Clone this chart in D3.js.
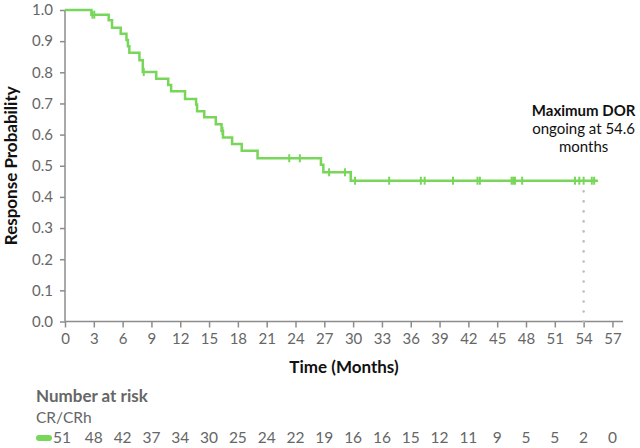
<!DOCTYPE html>
<html>
<head>
<meta charset="utf-8">
<script src="https://cdn.jsdelivr.net/npm/d3@7"></script>
<style>
  html, body { margin: 0; padding: 0; background: #fff; }
  svg { display: block; font-family: Lato, "Noto Sans", sans-serif; }
</style>
</head>
<body>
<svg id="chart" width="640" height="448"></svg>
<script>
// ---- data ----
const eventTimes = [0, 2.75, 4.55, 4.9, 5.8, 6.4, 6.55, 6.7, 7.75, 8.1, 9.5, 10.75, 11.05, 12.5, 13.65, 13.75, 14.5, 15.7, 16.3, 16.45, 17.4, 18.4, 20.05, 26.65, 26.9, 29.75];
const survival   = [1.0, 0.985, 0.967, 0.943, 0.924, 0.904, 0.884, 0.863, 0.839, 0.801, 0.779, 0.759, 0.739, 0.714, 0.697, 0.675, 0.656, 0.633, 0.612, 0.591, 0.570, 0.548, 0.524, 0.503, 0.479, 0.452];
const lastFollowUp = 55.5;
const censorTimes = [2.85, 3.05, 8.2, 16.4, 23.35, 24.45, 27.5, 29.15, 30.2, 33.75, 37.05, 37.45, 40.4, 42.95, 43.2, 46.5, 46.67, 46.85, 47.6, 53.1, 53.55, 54.0, 54.85, 55.1];
const xTicks = d3.range(0, 58, 3);
const yTicks = d3.range(0, 11).map(d => d / 10);
const atRiskTimes = d3.range(0, 58, 3);
const atRisk = [51, 48, 42, 37, 34, 30, 25, 24, 22, 19, 16, 16, 15, 12, 11, 9, 5, 5, 2, 0];
const groupName = "CR/CRh";
const maxDorTime = 54;
const annotationLines = ["Maximum DOR", "ongoing at 54.6", "months"];

// ---- styles ----
const green = "#78d65a";
const axisGray = "#8c8c8c";
const textGray = "#666";

const svg = d3.select("#chart");
const x = d3.scaleLinear().domain([0, 58.1]).range([65, 623]);
const y = d3.scaleLinear().domain([0, 1]).range([321.5, 10]);

function survAt(t) {
  let s = survival[0];
  for (let i = 0; i < eventTimes.length; i++) if (eventTimes[i] <= t) s = survival[i];
  return s;
}

// axes
const xAxis = svg.append("g").attr("transform", `translate(0,${y(0)})`)
  .call(d3.axisBottom(x).tickValues(xTicks).tickSize(6).tickPadding(6).tickFormat(d3.format("d")));
const yAxis = svg.append("g").attr("transform", `translate(${x(0)},0)`)
  .call(d3.axisLeft(y).tickValues(yTicks).tickSize(5).tickPadding(7).tickFormat(d3.format(".1f")));
[xAxis, yAxis].forEach(g => {
  g.select(".domain").attr("stroke", axisGray).attr("stroke-width", 1.5);
  g.selectAll(".tick line").attr("stroke", axisGray).attr("stroke-width", 1.5);
  g.selectAll(".tick text").attr("fill", textGray).style("font-size", "15px").style("font-family", "Lato, sans-serif");
});
xAxis.select(".domain").attr("d", `M${x(0)},0H${x(58.1)}`);
yAxis.select(".domain").attr("d", `M0,${y(1)}V${y(0)}`);

// axis titles
svg.append("text").attr("x", (x(0) + x(58.1)) / 2).attr("y", 373)
  .attr("text-anchor", "middle").style("font-size", "17px").style("font-weight", "bold")
  .attr("fill", "#111").text("Time (Months)");
svg.append("text").attr("transform", `translate(11,${(y(0) + y(1)) / 2}) rotate(-90)`)
  .attr("text-anchor", "middle").attr("dy", "0.35em").style("font-size", "17px").style("font-weight", "bold")
  .attr("fill", "#111").text("Response Probability");

// dotted reference line
svg.append("line")
  .attr("x1", x(maxDorTime)).attr("x2", x(maxDorTime))
  .attr("y1", y(0)).attr("y2", y(0.418))
  .attr("stroke", "#bdbdbd").attr("stroke-width", 2.6)
  .attr("stroke-linecap", "round").attr("stroke-dasharray", "0.01 10");

// KM curve
const pts = eventTimes.map((t, i) => [t, survival[i]]);
pts.push([lastFollowUp, survival[survival.length - 1]]);
svg.append("path").datum(pts)
  .attr("fill", "none").attr("stroke", green).attr("stroke-width", 2.5)
  .attr("d", d3.line().x(d => x(d[0])).y(d => y(d[1])).curve(d3.curveStepAfter));

// censor marks
svg.append("g").selectAll("line").data(censorTimes).join("line")
  .attr("x1", d => x(d)).attr("x2", d => x(d))
  .attr("y1", d => y(survAt(d)) - 4).attr("y2", d => y(survAt(d)) + 4)
  .attr("stroke", green).attr("stroke-width", 2);

// annotation
const ann = svg.append("text").attr("text-anchor", "middle").attr("fill", "#111").style("font-size", "15px");
annotationLines.forEach((s, i) => {
  ann.append("tspan").attr("x", x(maxDorTime)).attr("y", 116 + i * 18)
    .style("font-weight", i === 0 ? "bold" : "normal").text(s);
});

// number at risk
svg.append("text").attr("x", 36).attr("y", 402).attr("fill", textGray)
  .style("font-size", "17px").style("font-weight", "bold").text("Number at risk");
svg.append("text").attr("x", 36).attr("y", 423).attr("fill", textGray)
  .style("font-size", "15.5px").text(groupName);
svg.append("rect").attr("x", 36).attr("y", 435).attr("width", 16).attr("height", 6).attr("rx", 3)
  .attr("fill", green);
svg.append("g").selectAll("text").data(atRisk).join("text")
  .attr("x", (d, i) => x(atRiskTimes[i]) - (i === 0 ? 3 : 0)).attr("y", 443)
  .attr("text-anchor", "middle").attr("fill", textGray).style("font-size", "15.5px")
  .text(d => d);
</script>
</body>
</html>
